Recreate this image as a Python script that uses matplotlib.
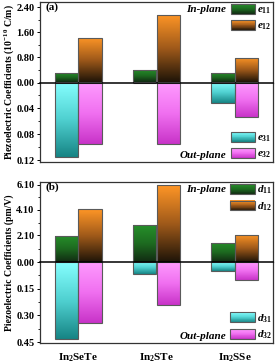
import numpy as np
import matplotlib
matplotlib.use('Agg')
import matplotlib.pyplot as plt
from matplotlib.colors import LinearSegmentedColormap
from matplotlib.patches import Rectangle, Patch
from matplotlib.legend_handler import HandlerBase
from matplotlib.ticker import FixedLocator, FormatStrFormatter

plt.rcParams['font.family'] = ['Liberation Serif', 'DejaVu Serif']
plt.rcParams['font.weight'] = 'bold'
plt.rcParams['mathtext.fontset'] = 'custom'
plt.rcParams['mathtext.rm'] = 'Liberation Serif:bold'
plt.rcParams['mathtext.bf'] = 'Liberation Serif:bold'
plt.rcParams['mathtext.it'] = 'Liberation Serif:bold:italic'

# ---------------- data ----------------
materials = ['In$_2$SeTe', 'In$_2$STe', 'In$_2$SSe']
e11 = [0.30, 0.40, 0.30]
e12 = [1.41, 2.16, 0.77]
e31 = [0.116, 0.0, 0.032]
e32 = [0.095, 0.095, 0.053]
d11 = [2.05, 2.91, 1.52]
d12 = [4.14, 6.06, 2.13]
d31 = [0.43, 0.07, 0.05]
d32 = [0.345, 0.244, 0.103]

a_top_ticks = [0.0, 0.8, 1.6, 2.4]
a_bot_ticks = [0.04, 0.08, 0.12]
b_top_ticks = [0.0, 2.1, 4.1, 6.1]
b_bot_ticks = [0.15, 0.30, 0.45]

# colormaps: value 0 at the zero line, 1 at the bar end
cm_green = LinearSegmentedColormap.from_list('g', ['#112a12', '#1d6a20', '#26902a'])
cm_orange = LinearSegmentedColormap.from_list('o', ['#1e1408', '#a05a1a', '#ff9626'])
cm_cyan = LinearSegmentedColormap.from_list('c', ['#86ffff', '#4fd0d0', '#168484'])
cm_pink = LinearSegmentedColormap.from_list('p', ['#ff9cff', '#f070f0', '#c833c8'])
EDGE = '#5a5a5a'

fig = plt.figure(figsize=(2.75, 3.63), dpi=100)
PW, PH = 275.0, 363.0


def ax_at(x0, y0, x1, y1):
    return fig.add_axes([x0 / PW, 1 - y1 / PH, (x1 - x0) / PW, (y1 - y0) / PH])


xpos = np.arange(len(materials))
bw = 0.30


def grad_bars(ax, xs, vals, cmap):
    bars = ax.bar(xs, vals, width=bw, facecolor='none', edgecolor=EDGE,
                  linewidth=0.8, zorder=4)
    grad = np.linspace(0, 1, 256).reshape(-1, 1)
    for r in bars:
        h = r.get_height()
        if h <= 0:
            continue
        x0 = r.get_x()
        im = ax.imshow(grad, cmap=cmap, aspect='auto', origin='lower',
                       extent=(x0, x0 + r.get_width(), 0, h), zorder=3,
                       interpolation='bilinear')
        im.set_clip_path(r)
    return bars


class GradHandler(HandlerBase):
    def __init__(self, cmap, flip):
        super().__init__()
        self.cmap = cmap
        self.flip = flip

    def create_artists(self, legend, orig_handle, xdescent, ydescent,
                       width, height, fontsize, trans):
        arts = []
        n = 24
        for i in range(n):
            t = (i + 0.5) / n
            v = 1 - t if self.flip else t
            arts.append(Rectangle((-xdescent, -ydescent + i * height / n),
                                  width, height / n + 0.05,
                                  facecolor=self.cmap(v), linewidth=0,
                                  transform=trans))
        arts.append(Rectangle((-xdescent, -ydescent), width, height,
                              facecolor='none', edgecolor=EDGE, linewidth=0.8,
                              transform=trans))
        return arts


def style(ax, top):
    ax.set_xlim(-0.49, 2.49)
    ax.tick_params(axis='x', length=0, labelbottom=False)
    ax.tick_params(axis='y', direction='out', length=2.5, width=0.7,
                   labelsize=7.5, pad=1.5)
    ax.tick_params(axis='y', which='minor', direction='out', length=1.5, width=0.6)
    for s in ax.spines.values():
        s.set_linewidth(0.9)
        s.set_color('#333333')
    if top:
        ax.spines['bottom'].set_visible(False)
    else:
        ax.spines['top'].set_visible(False)
    ax.yaxis.set_major_formatter(FormatStrFormatter('%.2f'))


def panel(y_top, y_zero, y_bot, up1, up2, dn1, dn2, top_lim, bot_lim,
          top_ticks, bot_ticks, sym, tag, ylabel):
    axt = ax_at(40, y_top, 273, y_zero)
    axb = ax_at(40, y_zero, 273, y_bot)
    grad_bars(axt, xpos - bw / 2, up1, cm_green)
    grad_bars(axt, xpos + bw / 2, up2, cm_orange)
    grad_bars(axb, xpos - bw / 2, dn1, cm_cyan)
    grad_bars(axb, xpos + bw / 2, dn2, cm_pink)
    style(axt, True)
    style(axb, False)
    axt.set_ylim(0, top_lim)
    axb.set_ylim(bot_lim, 0)
    axt.yaxis.set_major_locator(FixedLocator(top_ticks))
    axb.yaxis.set_major_locator(FixedLocator(bot_ticks))
    tmid = [(top_ticks[i] + top_ticks[i + 1]) / 2 for i in range(len(top_ticks) - 1)]
    bt = [0.0] + list(bot_ticks)
    bmid = [(bt[i] + bt[i + 1]) / 2 for i in range(len(bt) - 1)]
    axt.yaxis.set_minor_locator(FixedLocator(tmid))
    axb.yaxis.set_minor_locator(FixedLocator(bmid))
    axb.axhline(0, color='black', lw=1.1, zorder=10, clip_on=False)

    # legends
    h1, h2, h3, h4 = Patch(), Patch(), Patch(), Patch()
    kw = dict(frameon=False, fontsize=8, handlelength=2.2, handleheight=1.0,
              handletextpad=0.2, labelspacing=0.35, borderpad=0.1,
              borderaxespad=0.0)
    axt.legend([h1, h2], ['$%s_{11}$' % sym, '$%s_{12}$' % sym],
               handler_map={h1: GradHandler(cm_green, False),
                            h2: GradHandler(cm_orange, False)},
               loc='upper right', bbox_to_anchor=(1.0, 0.99), **kw)
    axb.legend([h3, h4], ['$%s_{31}$' % sym, '$%s_{32}$' % sym],
               handler_map={h3: GradHandler(cm_cyan, True),
                            h4: GradHandler(cm_pink, True)},
               loc='lower right', bbox_to_anchor=(1.0, 0.01), **kw)
    axt.text(0.80, 0.905, 'In-plane', transform=axt.transAxes, ha='right',
             va='center', fontsize=8, style='italic', fontweight='bold')
    axb.text(0.80, 0.085, 'Out-plane', transform=axb.transAxes, ha='right',
             va='center', fontsize=8, style='italic', fontweight='bold')
    axt.text(0.025, 0.93, tag, transform=axt.transAxes, ha='left', va='center',
             fontsize=8, fontweight='bold')
    fig.text(9 / PW, 1 - (y_top + y_bot) / 2 / PH, ylabel, rotation=90,
             ha='center', va='center', fontsize=7, fontweight='bold')
    return axt, axb


panel(2, 82.5, 162, e11, e12, e31, e32, 2.56, 0.123,
      a_top_ticks, a_bot_ticks, 'e', '(a)',
      'Piezoelectric Coefficients (10$^{-10}$ C/m)')
axt2, axb2 = panel(182, 262, 343, d11, d12, d31, d32, 6.3, 0.455,
                   b_top_ticks, b_bot_ticks, 'd', '(b)',
                   'Piezoelectric Coefficients (pm/V)')

axb2.set_xticks(xpos)
axb2.set_xticklabels(materials)
axb2.tick_params(axis='x', labelbottom=True, labelsize=8, pad=6)

fig.savefig('out.png', dpi=100)
